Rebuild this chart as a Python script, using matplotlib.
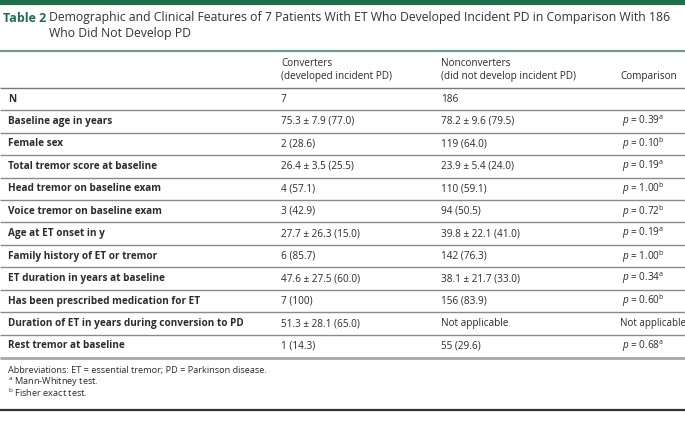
import matplotlib.pyplot as plt
from matplotlib.lines import Line2D

plt.rcParams['font.family'] = ['Open Sans', 'DejaVu Sans']
plt.rcParams['mathtext.fontset'] = 'custom'
plt.rcParams['mathtext.rm'] = 'Open Sans'
plt.rcParams['mathtext.it'] = 'Open Sans:italic'

TITLE_LABEL = "Table 2"
TITLE_TEXT = ["Demographic and Clinical Features of 7 Patients With ET Who Developed Incident PD in Comparison With 186",
              "Who Did Not Develop PD"]

HEADERS = [("Converters", "(developed incident PD)"),
           ("Nonconverters", "(did not develop incident PD)"),
           ("", "Comparison")]

ROWS = ["N", "Baseline age in years", "Female sex", "Total tremor score at baseline",
        "Head tremor on baseline exam", "Voice tremor on baseline exam", "Age at ET onset in y",
        "Family history of ET or tremor", "ET duration in years at baseline",
        "Has been prescribed medication for ET", "Duration of ET in years during conversion to PD",
        "Rest tremor at baseline"]
CONVERTERS = ["7", "75.3 ± 7.9 (77.0)", "2 (28.6)", "26.4 ± 3.5 (25.5)", "4 (57.1)", "3 (42.9)",
              "27.7 ± 26.3 (15.0)", "6 (85.7)", "47.6 ± 27.5 (60.0)", "7 (100)", "51.3 ± 28.1 (65.0)",
              "1 (14.3)"]
NONCONVERTERS = ["186", "78.2 ± 9.6 (79.5)", "119 (64.0)", "23.9 ± 5.4 (24.0)", "110 (59.1)", "94 (50.5)",
                 "39.8 ± 22.1 (41.0)", "142 (76.3)", "38.1 ± 21.7 (33.0)", "156 (83.9)", "Not applicable",
                 "55 (29.6)"]
P_VALUES = ["", "0.39", "0.10", "0.19", "1.00", "0.72", "0.19", "1.00", "0.34", "0.60", None, "0.68"]
P_TESTS = ["", "a", "b", "a", "b", "b", "a", "b", "a", "b", "", "a"]

FOOTNOTES = ["Abbreviations: ET = essential tremor; PD = Parkinson disease.",
             "$^{\\mathrm{a}}$ Mann-Whitney test.",
             "$^{\\mathrm{b}}$ Fisher exact test."]

W, H = 685, 425
GREEN = "#1f6e4c"
TXT = "#2b2b2b"

fig = plt.figure(figsize=(W / 100, H / 100), dpi=100)
fig.patch.set_facecolor("white")


def fx(x):
    return x / W


def fy(y):
    return 1 - y / H


def hline(y, color, lw):
    fig.add_artist(Line2D([0, 1], [fy(y), fy(y)], color=color, lw=lw, solid_capstyle="butt"))


# top bar
hline(1.5, GREEN, 4.5)

fig.text(fx(3), fy(18), TITLE_LABEL, color=GREEN, fontsize=9, fontweight="bold", va="center")
for i, line in enumerate(TITLE_TEXT):
    fig.text(fx(49), fy(18 + i * 16), line, color="#333333", fontsize=8.8, va="center")

hline(51, "#6f9e86", 1.6)

# header
cols_x = [281, 441, 620]
for x, (l1, l2) in zip(cols_x, HEADERS):
    if l1:
        fig.text(fx(x), fy(64), l1, fontsize=7.2, color=TXT, va="center")
    fig.text(fx(x), fy(77), l2, fontsize=7.2, color=TXT, va="center")

hline(88, "#7a7a7a", 1.0)

row_h = 22.45
y0 = 99
for i, label in enumerate(ROWS):
    y = y0 + i * row_h
    fig.text(fx(8), fy(y), label, fontsize=7.2, fontweight="bold", color=TXT, va="center")
    fig.text(fx(cols_x[0]), fy(y), CONVERTERS[i], fontsize=7.2, color=TXT, va="center")
    fig.text(fx(cols_x[1]), fy(y), NONCONVERTERS[i], fontsize=7.2, color=TXT, va="center")
    pv = P_VALUES[i]
    if pv is None:
        fig.text(fx(cols_x[2]), fy(y), "Not applicable", fontsize=7.0, color=TXT, va="center")
    elif pv:
        s = "$\\mathit{p}$ = " + pv + "$^{\\mathrm{" + P_TESTS[i] + "}}$"
        fig.text(fx(cols_x[2] + 2), fy(y), s, fontsize=7.2, color=TXT, va="center")
    if i < len(ROWS) - 1:
        hline(y + row_h / 2, "#8a8a8a", 1.0)

hline(y0 + (len(ROWS) - 1) * row_h + 12, "#a8a8a8", 2.0)

for i, note in enumerate(FOOTNOTES):
    fig.text(fx(8), fy(370 + i * 11.3), note, fontsize=6.6, color=TXT, va="center")

hline(410, "#333333", 1.6)

fig.savefig("out.png", dpi=100)
